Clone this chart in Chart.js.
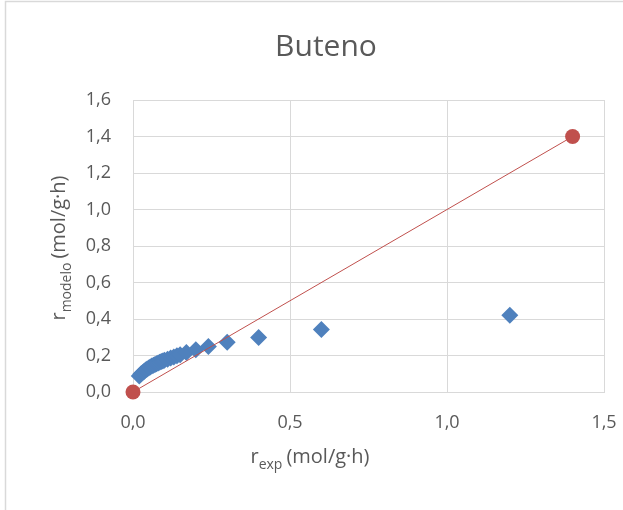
<!DOCTYPE html>
<html>
<head>
<meta charset="utf-8">
<script src="https://cdn.jsdelivr.net/npm/chart.js@4"></script>
<style>
  html, body { margin: 0; padding: 0; background: #fff; }
  #wrap { width: 623px; height: 510px; position: relative; }
</style>
</head>
<body>
<div id="wrap"><canvas id="butenoChart" width="623" height="510"></canvas></div>
<script>
// values
const r_exp    = [0.02, 0.025, 0.03, 0.035, 0.04, 0.045, 0.05, 0.055, 0.06, 0.065, 0.07, 0.075, 0.08, 0.085, 0.09, 0.095, 0.10, 0.11, 0.12, 0.13, 0.14, 0.15, 0.17, 0.20, 0.24, 0.30, 0.40, 0.60, 1.20]
const r_modelo = [0.088, 0.098, 0.106, 0.113, 0.12, 0.126, 0.132, 0.137, 0.142, 0.147, 0.151, 0.155, 0.159, 0.163, 0.167, 0.17, 0.174, 0.18, 0.186, 0.192, 0.198, 0.204, 0.216, 0.232, 0.25, 0.272, 0.298, 0.343, 0.42]
const diag_x = [0, 1.4]
const diag_y = [0, 1.4]
const x_ticks = [0, 0.5, 1.0, 1.5]
const y_ticks = [0, 0.2, 0.4, 0.6, 0.8, 1.0, 1.2, 1.4, 1.6]

const txt = '#595959'
const grid = '#d9d9d9'
const fam = '"Open Sans", "Liberation Sans", sans-serif'
const comma = v => v.toFixed(1).replace('.', ',')

// title, axis titles with subscripts, and the outer frame
const decor = {
    id: 'decor',
    afterDraw(chart) {
        const ctx = chart.ctx
        ctx.save()
        ctx.strokeStyle = grid
        ctx.lineWidth = 1.5
        ctx.beginPath()
        ctx.moveTo(5.5, 510); ctx.lineTo(5.5, 1.5); ctx.lineTo(623, 1.5)
        ctx.stroke()

        ctx.fillStyle = txt
        ctx.textBaseline = 'alphabetic'
        ctx.font = '30px ' + fam
        ctx.textAlign = 'center'
        ctx.fillText('Buteno', 326, 56)

        // draws "r" + subscript + rest, centred on 0
        function subTitle(sub, rest, size) {
            const subSize = Math.round(size * 0.72)
            ctx.font = size + 'px ' + fam
            const wR = ctx.measureText('r').width
            const wRest = ctx.measureText(rest).width
            ctx.font = subSize + 'px ' + fam
            const wSub = ctx.measureText(sub).width
            const total = wR + wSub + 4 + wRest
            let x = -total / 2
            ctx.textAlign = 'left'
            ctx.font = size + 'px ' + fam
            ctx.fillText('r', x, 0)
            x += wR
            ctx.font = subSize + 'px ' + fam
            ctx.fillText(sub, x, size * 0.3)
            x += wSub + 4
            ctx.font = size + 'px ' + fam
            ctx.fillText(rest, x, 0)
        }

        ctx.save()
        ctx.translate(310, 463)
        subTitle('exp', '(mol/g·h)', 20)
        ctx.restore()

        ctx.save()
        ctx.translate(65, 248)
        ctx.rotate(-Math.PI / 2)
        subTitle('modelo', '(mol/g·h)', 20)
        ctx.restore()
        ctx.restore()
    }
}

new Chart(document.getElementById('butenoChart').getContext('2d'), {
    type: 'scatter',
    data: {
        datasets: [{
            label: 'Ideal',
            data: diag_x.map((x, i) => ({ x: x, y: diag_y[i] })),
            showLine: true,
            borderColor: '#c0504d',
            borderWidth: 1,
            pointRadius: 7.5,
            pointBackgroundColor: '#c0504d',
            pointBorderWidth: 0,
            clip: false
        }, {
            label: 'Buteno',
            data: r_exp.map((x, i) => ({ x: x, y: r_modelo[i] })),
            pointStyle: 'rectRot',
            pointRadius: 8.5,
            pointBackgroundColor: '#4f81bd',
            pointBorderWidth: 0,
            clip: false
        }]
    },
    options: {
        responsive: false,
        animation: false,
        events: [],
        layout: { padding: { top: 100, right: 19, left: 0, bottom: 0 } },
        plugins: { legend: { display: false }, tooltip: { enabled: false }, title: { display: false } },
        scales: {
            x: {
                type: 'linear', min: 0, max: 1.5,
                afterBuildTicks: s => { s.ticks = x_ticks.map(v => ({ value: v })) },
                afterFit: s => { s.height = 118; s.paddingLeft = 0; s.paddingRight = 0 },
                grid: { color: grid, drawTicks: false },
                border: { color: grid },
                ticks: { color: txt, font: { family: fam, size: 18 }, padding: 20, callback: comma, maxRotation: 0 }
            },
            y: {
                type: 'linear', min: 0, max: 1.6,
                afterBuildTicks: s => { s.ticks = y_ticks.map(v => ({ value: v })) },
                afterFit: s => { s.width = 133; s.paddingTop = 0; s.paddingBottom = 0 },
                grid: { color: grid, drawTicks: false },
                border: { color: grid },
                ticks: { color: txt, font: { family: fam, size: 18 }, padding: 22, callback: comma }
            }
        }
    },
    plugins: [decor]
})
</script>
</body>
</html>
